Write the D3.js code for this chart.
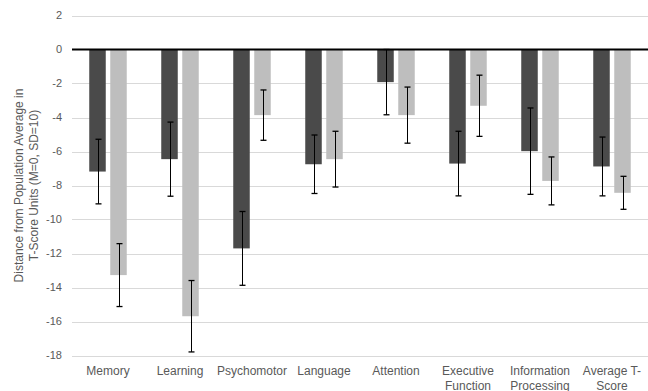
<!DOCTYPE html>
<html>
<head>
<meta charset="utf-8">
<script src="https://cdn.jsdelivr.net/npm/d3@7"></script>
<style>
html,body{margin:0;padding:0;background:#fff;}
svg{display:block;font-family:"Liberation Sans",Arial,sans-serif;}
</style>
</head>
<body>
<svg id="chart" width="648" height="391"></svg>
<script>
const categories = [["Memory"],["Learning"],["Psychomotor"],["Language"],["Attention"],["Executive","Function"],["Information","Processing"],["Average T-","Score"]];
const seriesA = [-7.18,-6.45,-11.70,-6.75,-1.92,-6.71,-5.98,-6.88];
const errorA  = [1.90,2.18,2.17,1.72,1.92,1.90,2.54,1.73];
const seriesB = [-13.27,-15.69,-3.86,-6.45,-3.86,-3.31,-7.73,-8.43];
const errorB  = [1.85,2.10,1.48,1.64,1.65,1.80,1.41,0.97];
const yTicks = [2,0,-2,-4,-6,-8,-10,-12,-14,-16,-18];
const yTitle = ["Distance from Population Average in","T-Score Units (M=0, SD=10)"];

(function(){
const svg = d3.select("#chart");
const pL = 72, pR = 648, pT = 15.5, pB = 355.5;
const y = d3.scaleLinear().domain([-18,2]).range([pB, pT]);
const x = d3.scaleBand().domain(d3.range(categories.length)).range([pL, pR]).padding(0);
const bw = 16.5, off = 10.5;
const txt = "#595959";

// gridlines
svg.append("g").selectAll("line").data(yTicks.filter(d=>d!==0)).join("line")
  .attr("x1", pL).attr("x2", pR)
  .attr("y1", d=>Math.round(y(d))+0.5).attr("y2", d=>Math.round(y(d))+0.5)
  .attr("stroke", "#d9d9d9").attr("stroke-width", 1);

// y tick labels
svg.append("g").selectAll("text").data(yTicks).join("text")
  .attr("x", 62).attr("y", d=>y(d)).attr("dy","0.35em")
  .attr("text-anchor","end").attr("font-size", 11).attr("fill",txt)
  .text(d=>d);

// y title
const yt = svg.append("text").attr("transform", `translate(0,${(pT+pB)/2}) rotate(-90)`)
  .attr("text-anchor","middle").attr("font-size", 12).attr("fill",txt);
yt.selectAll("tspan").data(yTitle).join("tspan")
  .attr("x",0).attr("y",(d,i)=>22.7+i*15).text(d=>d);

// bars
const cx = i => x(i) + x.bandwidth()/2;
function drawSeries(vals, color, dx){
  svg.append("g").selectAll("rect").data(vals).join("rect")
    .attr("x", (d,i)=>cx(i)+dx-bw/2).attr("width", bw)
    .attr("y", d=>y(Math.max(0,d))).attr("height", d=>Math.abs(y(d)-y(0)))
    .attr("fill", color);
}
drawSeries(seriesA, "#4a4a4a", -off);
drawSeries(seriesB, "#bebebe", off);

// zero line
svg.append("line").attr("x1", pL).attr("x2", pR)
  .attr("y1", y(0)).attr("y2", y(0)).attr("stroke","#000").attr("stroke-width",2.2);

// error bars
function drawErr(vals, errs, dx){
  const g = svg.append("g").attr("stroke","#000");
  vals.forEach((v,i)=>{
    const px = Math.round(cx(i)+dx)+0.5;
    const y1 = y(v+errs[i]), y2 = y(v-errs[i]);
    g.append("line").attr("x1",px).attr("x2",px).attr("y1",y1).attr("y2",y2).attr("stroke-width",1);
    [y1,y2].forEach(yy=>g.append("line").attr("x1",px-3).attr("x2",px+3).attr("y1",yy).attr("y2",yy).attr("stroke-width",1.3));
  });
}
drawErr(seriesA, errorA, -off);
drawErr(seriesB, errorB, off);

// x labels
const xl = svg.append("g").selectAll("text").data(categories).join("text")
  .attr("x",(d,i)=>cx(i)).attr("y",374.5).attr("text-anchor","middle")
  .attr("font-size",12).attr("fill",txt);
xl.each(function(d){
  const t = d3.select(this), xx = t.attr("x");
  d.forEach((s,i)=>t.append("tspan").attr("x",xx).attr("y",374.5+i*15).text(s));
});
})();
</script>
</body>
</html>
